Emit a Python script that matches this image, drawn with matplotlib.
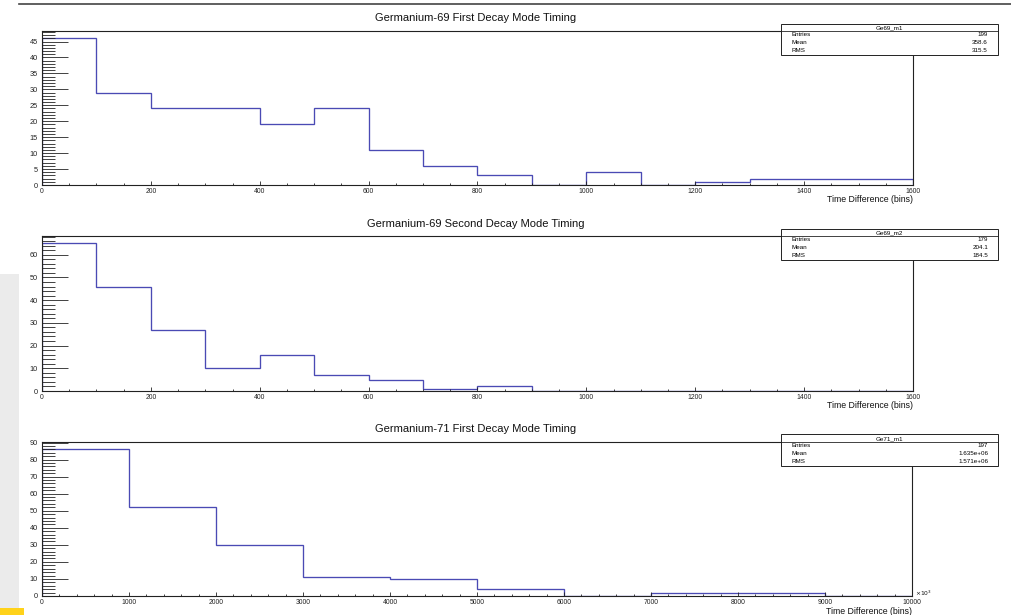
import matplotlib
matplotlib.use("Agg")
import matplotlib.pyplot as plt
from matplotlib.patches import Rectangle
from matplotlib.ticker import MultipleLocator
from matplotlib.lines import Line2D

plt.rcParams['font.family'] = ['Liberation Sans', 'DejaVu Sans']

# ---------------- data ----------------
titles = ["Germanium-69 First Decay Mode Timing",
          "Germanium-69 Second Decay Mode Timing",
          "Germanium-71 First Decay Mode Timing"]
stat_names = ["Ge69_m1", "Ge69_m2", "Ge71_m1"]
stat_entries = ["199", "179", "197"]
stat_means = ["358.6", "204.1", "1.635e+06"]
stat_rms = ["315.5", "184.5", "1.571e+06"]
xlabel = "Time Difference (bins)"

ge69_m1_edges = [0, 100, 200, 300, 400, 500, 600, 700, 800, 900, 1000,
                 1100, 1200, 1300, 1400, 1500, 1600]
ge69_m1_counts = [46, 29, 24, 24, 19, 24, 11, 6, 3, 0, 4, 0, 1, 2, 2, 2]

ge69_m2_edges = [0, 100, 200, 300, 400, 500, 600, 700, 800, 900, 1000,
                 1100, 1200, 1300, 1400, 1500, 1600]
ge69_m2_counts = [65, 46, 27, 10, 16, 7, 5, 1, 2, 0, 0, 0, 0, 0, 0, 0]

# x in units of 10^3
ge71_m1_edges = [0, 1000, 2000, 3000, 4000, 5000, 6000, 7000, 8000, 9000, 10000]
ge71_m1_counts = [86, 52, 30, 11, 10, 4, 0, 2, 2, 0]

edges_list = [ge69_m1_edges, ge69_m2_edges, ge71_m1_edges]
counts_list = [ge69_m1_counts, ge69_m2_counts, ge71_m1_counts]

# ---------------- layout ----------------
W, H = 1012, 615
fig = plt.figure(figsize=(W / 100, H / 100), dpi=100)
fig.patch.set_facecolor("white")


def fx(x):
    return x / W


def fy(y):
    return 1 - y / H


# left gray strip, yellow marker and top rule
fig.patches.append(Rectangle((fx(0), fy(615)), fx(19), 341 / H,
                             transform=fig.transFigure, facecolor="#ebebeb",
                             edgecolor="none", zorder=0))
fig.patches.append(Rectangle((fx(0), fy(615)), fx(24), 7.5 / H,
                             transform=fig.transFigure, facecolor="#ffd21a",
                             edgecolor="none", zorder=1))
fig.lines.append(Line2D([fx(19), 1], [fy(4.3), fy(4.3)],
                        transform=fig.transFigure, color="#444444", lw=1.2))

# axes pixel boxes: left, right, top, bottom
boxes = [(42, 913, 31, 185), (42, 913, 236, 391), (42, 912, 442, 596)]
ytops = [48.3, 68.25, 90.3]
ymajor = [5, 10, 10]
yminor = [1, 2, 2]
xmajor = [200, 200, 1000]
xminor = [50, 50, 200]
title_y = [18, 224, 429]
xlabel_y = [200, 405, 611]
line_color = "#4a4ab4"

for i in range(3):
    l, r, t, b = boxes[i]
    ax = fig.add_axes([fx(l), fy(b), (r - l) / W, (b - t) / H])
    ax.stairs(counts_list[i], edges_list[i], color=line_color, lw=0.95)
    ax.set_xlim(edges_list[i][0], edges_list[i][-1])
    ax.set_ylim(0, ytops[i])
    ax.xaxis.set_major_locator(MultipleLocator(xmajor[i]))
    ax.xaxis.set_minor_locator(MultipleLocator(xminor[i]))
    ax.yaxis.set_major_locator(MultipleLocator(ymajor[i]))
    ax.yaxis.set_minor_locator(MultipleLocator(yminor[i]))
    ax.tick_params(axis="both", which="both", direction="in",
                   top=False, right=False, colors="#222222", width=0.6)
    ax.tick_params(axis="y", which="major", length=18.5, pad=3, labelsize=5.3)
    ax.tick_params(axis="y", which="minor", length=9.6)
    ax.tick_params(axis="x", which="major", length=3.0, pad=2, labelsize=4.9)
    ax.tick_params(axis="x", which="minor", length=1.6)
    for sp in ax.spines.values():
        sp.set_linewidth(0.8)
        sp.set_color("#222222")
    ax.set_facecolor("white")

    fig.text(fx(476), fy(title_y[i]), titles[i], ha="center", va="center",
             fontsize=8, color="#111111")
    fig.text(fx(r), fy(xlabel_y[i]), xlabel, ha="right", va="center",
             fontsize=6.3, color="#111111")

    # stats box
    bx0, bx1 = 780.7, 998.3
    btop = t - 7.5
    hdr = t + 0.3
    bbot = hdr + 24
    fig.patches.append(Rectangle((fx(bx0), fy(bbot)), (bx1 - bx0) / W,
                                 (bbot - btop) / H, transform=fig.transFigure,
                                 facecolor="white", edgecolor="#222222",
                                 lw=0.7, zorder=5))
    fig.lines.append(Line2D([fx(bx0), fx(bx1)], [fy(hdr), fy(hdr)],
                            transform=fig.transFigure, color="#222222",
                            lw=0.6, zorder=6))
    fig.text(fx((bx0 + bx1) / 2), fy((btop + hdr) / 2), stat_names[i],
             ha="center", va="center", fontsize=4.5, zorder=7)
    rows = [("Entries", stat_entries[i]), ("Mean", stat_means[i]),
            ("RMS", stat_rms[i])]
    for k, (nm, val) in enumerate(rows):
        yy = hdr + 3.5 + 8 * k
        fig.text(fx(791.5), fy(yy), nm, ha="left", va="center",
                 fontsize=4.5, zorder=7)
        fig.text(fx(988), fy(yy), val, ha="right", va="center",
                 fontsize=4.5, zorder=7)

fig.text(fx(915), fy(593), r"$\times10^{3}$", ha="left", va="center",
         fontsize=4.3, color="#111111")

fig.savefig("out.png", dpi=100)
